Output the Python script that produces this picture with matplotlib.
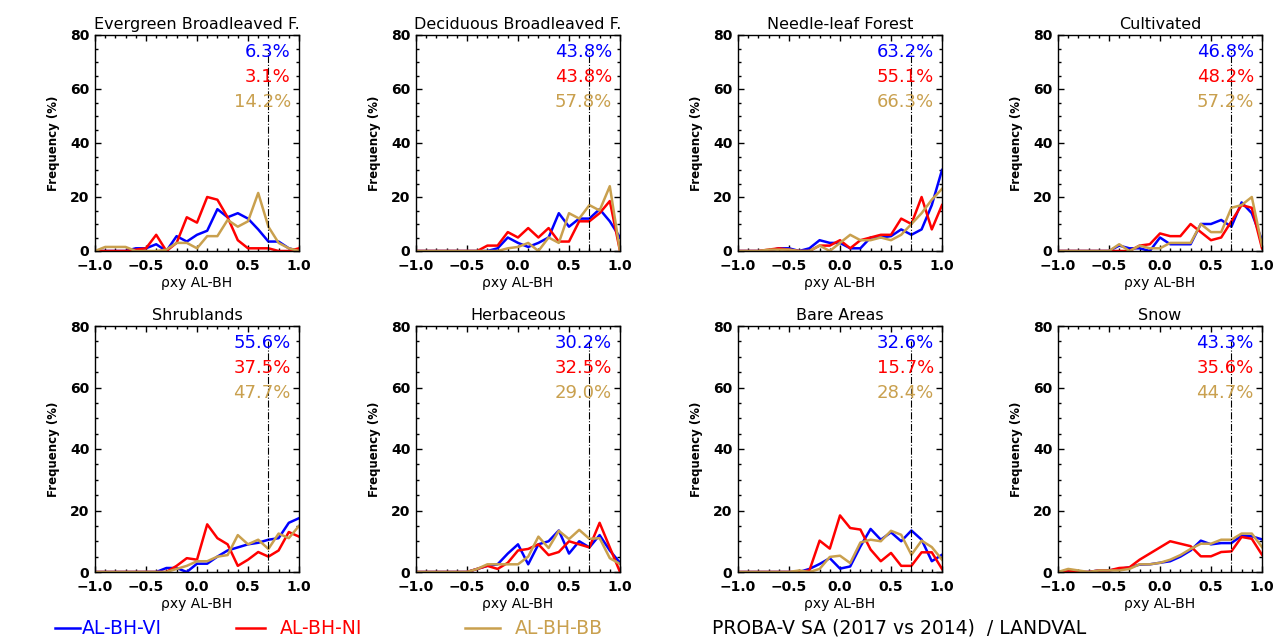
import numpy as np
import matplotlib
matplotlib.use('Agg')
import matplotlib.pyplot as plt
from matplotlib.lines import Line2D
from matplotlib.ticker import MultipleLocator

# correlation bins (rho xy AL-BH)
rho = [-1.0, -0.9, -0.8, -0.7, -0.6, -0.5, -0.4, -0.3, -0.2, -0.1, 0.0,
       0.1, 0.2, 0.3, 0.4, 0.5, 0.6, 0.7, 0.8, 0.9, 1.0]

titles = ['Evergreen Broadleaved F.', 'Deciduous Broadleaved F.', 'Needle-leaf Forest', 'Cultivated',
          'Shrublands', 'Herbaceous', 'Bare Areas', 'Snow']

# frequency (%) per class, AL-BH-VI
vi = [
    [0, 0, 0, 0, 1, 1, 2.5, 0, 5.5, 3.5, 6, 7.5, 15.5, 12.5, 14, 12, 8, 3.5, 3.5, 1, 0],
    [0, 0, 0, 0, 0, 0, 0, 0, 1, 5, 3, 1.5, 3, 5, 14, 9, 12, 12, 15.5, 11, 5],
    [0, 0, 0, 0, 1, 1, 0, 1, 4, 3, 3, 1, 1, 5, 5, 5.5, 8, 6, 8, 17, 30],
    [0, 0, 0, 0, 0, 0, 2, 1, 1, 0, 5, 2.5, 2.5, 2.5, 10, 10, 11.5, 9, 18, 14, 4],
    [0, 0, 0, 0, 0, 0, 0, 1.3, 1.3, 0, 2.7, 2.7, 5, 7, 8, 9, 9.5, 10.5, 11, 16, 17.5],
    [0, 0, 0, 0, 0, 0, 1, 2, 2.5, 6, 9, 2.5, 9, 10, 13.5, 6, 10, 8, 12, 7, 3],
    [0, 0, 0, 0, 0, 0, 0, 1, 2.6, 4.5, 1.1, 1.8, 8.3, 14, 10.5, 12.9, 10, 13.5, 10.5, 3.5, 5.6],
    [0, 0, 0, 0, 0.5, 0.5, 1, 1.5, 2.4, 2.5, 3, 3.5, 5, 7, 10.2, 9, 9.4, 9.4, 11.8, 11.6, 10.6],
]
# AL-BH-NI
ni = [
    [0, 0, 0, 0, 0.5, 1, 6, 0, 3, 12.5, 10.5, 20, 19, 12.5, 4, 1, 1, 1, 0, 0, 1],
    [0, 0, 0, 0, 0, 0, 0, 2, 2, 7, 5, 8.5, 5, 8.5, 3.5, 3.5, 11, 11, 14, 18.5, 0],
    [0, 0, 0, 0.5, 1, 0.5, 0, 0, 2, 2, 4, 1, 4, 5, 6, 6, 12, 10, 20, 8, 17],
    [0, 0, 0, 0, 0, 0, 0, 0, 2, 2.5, 6.5, 5.5, 5.5, 10, 7, 4, 5, 11, 17, 16, 1],
    [0, 0, 0, 0, 0, 0, 0, 0, 2, 4.5, 4, 15.5, 11, 9, 2, 4, 6.5, 5, 7, 13, 11.5],
    [0, 0, 0, 0, 0, 0, 1, 2, 1, 3, 7, 7.5, 9, 5.5, 6.5, 10, 9, 8, 16, 8, 0],
    [0, 0, 0, 0, 0, 0, 0, 0.5, 10.2, 7.6, 18.4, 14.3, 13.8, 7.3, 3.5, 6.2, 2, 2, 6.4, 6.4, 1],
    [0, 0.5, 0, 0, 0.5, 0.5, 1.3, 1.5, 4, 6, 8, 10, 9.2, 8.4, 5.1, 5.1, 6.5, 6.7, 11.4, 10.8, 5.6],
]
# AL-BH-BB
bb = [
    [0, 1.5, 1.5, 1.5, 0, 0, 0, 0.5, 3, 3, 1, 5.5, 5.5, 11.5, 9, 11, 21.5, 9, 3, 1, 0],
    [0, 0, 0, 0, 0, 0, 0, 0, 0, 1, 1.5, 3, 0, 5, 3, 14, 12, 17, 15, 24, 0],
    [0, 0, 0, 0.5, 0.5, 0.5, 0, 0, 2, 0, 3, 6, 4, 4, 5, 4, 6, 10, 14, 19, 23],
    [0, 0, 0, 0, 0, 0, 2.5, 0, 2, 1, 1, 3, 3, 3, 10, 7, 7, 16, 17, 20, 2],
    [0, 0, 0, 0, 0, 0, 0, 0, 1, 2, 3.5, 3.5, 5, 5.5, 12, 9, 10.5, 7.5, 12.5, 11, 15],
    [0, 0, 0, 0, 0, 0, 1, 2.5, 2.5, 2.5, 2.5, 5, 11.5, 7.8, 13.4, 10.7, 13.7, 10.8, 11, 4.5, 2.6],
    [0, 0, 0, 0, 0, 0, 0.5, 0, 1, 4.9, 5.3, 2.9, 9.6, 10.5, 10, 13.4, 12.1, 5.6, 10.2, 8.1, 4],
    [0, 1, 0.5, 0, 0.5, 0.5, 0.5, 1, 2.5, 2.5, 3, 4, 5.5, 7.5, 9.2, 9.2, 10.5, 10.5, 12.5, 12.5, 8.1],
]

# percentages above threshold
pct_vi = [6.3, 43.8, 63.2, 46.8, 55.6, 30.2, 32.6, 43.3]
pct_ni = [3.1, 43.8, 55.1, 48.2, 37.5, 32.5, 15.7, 35.6]
pct_bb = [14.2, 57.8, 66.3, 57.2, 47.7, 29.0, 28.4, 44.7]

threshold = 0.7

c_vi = '#0000ff'
c_ni = '#ff0000'
c_bb = '#c9a04e'

W, H = 1287, 643
fig = plt.figure(figsize=(W / 100, H / 100), dpi=100)
fig.patch.set_facecolor('white')

lefts = [95, 416, 738, 1058]
width = 204
rows = [(35, 251), (326, 572)]

for i in range(8):
    r, c = divmod(i, 4)
    top, bot = rows[r]
    ax = fig.add_axes([lefts[c] / W, 1 - bot / H, width / W, (bot - top) / H])

    ax.plot(rho, vi[i], color=c_vi, lw=1.8)
    ax.plot(rho, ni[i], color=c_ni, lw=1.8)
    ax.plot(rho, bb[i], color=c_bb, lw=1.8)
    ax.plot([threshold, threshold], [0, 75], color='black', lw=0.8, ls='-.')

    ax.set_xlim(-1, 1)
    ax.set_ylim(0, 80)
    ax.xaxis.set_major_locator(MultipleLocator(0.5))
    ax.xaxis.set_minor_locator(MultipleLocator(0.1))
    ax.yaxis.set_major_locator(MultipleLocator(20))
    ax.yaxis.set_minor_locator(MultipleLocator(5))
    ax.tick_params(which='both', direction='in', top=True, right=True, width=1)
    ax.tick_params(which='major', length=4)
    ax.tick_params(which='minor', length=2)
    ax.tick_params(axis='x', pad=6)
    ax.tick_params(axis='y', pad=4)
    for lab in ax.get_xticklabels() + ax.get_yticklabels():
        lab.set_fontweight('bold')
        lab.set_fontsize(10)
    for sp in ax.spines.values():
        sp.set_linewidth(1.0)

    ax.set_title(titles[i], fontsize=11.5, pad=4)
    ax.set_xlabel('ρxy AL-BH', fontsize=10, labelpad=2)
    ax.set_ylabel('Frequency (%)', fontsize=8.5, fontweight='bold', labelpad=7)

    for k, (val, col) in enumerate([(pct_vi[i], c_vi), (pct_ni[i], c_ni), (pct_bb[i], c_bb)]):
        ax.annotate('%.1f%%' % val, xy=(0.96, 1), xycoords='axes fraction',
                    xytext=(0, -12 - 18 * k), textcoords='offset points',
                    ha='right', va='center', color=col, fontsize=13)

# footer legend
ly = 1 - 628 / H
for x0, x1, tx, name, col in [(55, 80, 82, 'AL-BH-VI', c_vi),
                              (236, 265, 280, 'AL-BH-NI', c_ni),
                              (465, 500, 515, 'AL-BH-BB', c_bb)]:
    fig.add_artist(Line2D([x0 / W, x1 / W], [ly, ly], color=col, lw=1.8))
    fig.text(tx / W, ly, name, color=col, fontsize=13.5, va='center', ha='left')
fig.text(712 / W, ly, 'PROBA-V SA (2017 vs 2014)  / LANDVAL', fontsize=13.5, va='center', ha='left')

fig.savefig('out.png', dpi=100)
